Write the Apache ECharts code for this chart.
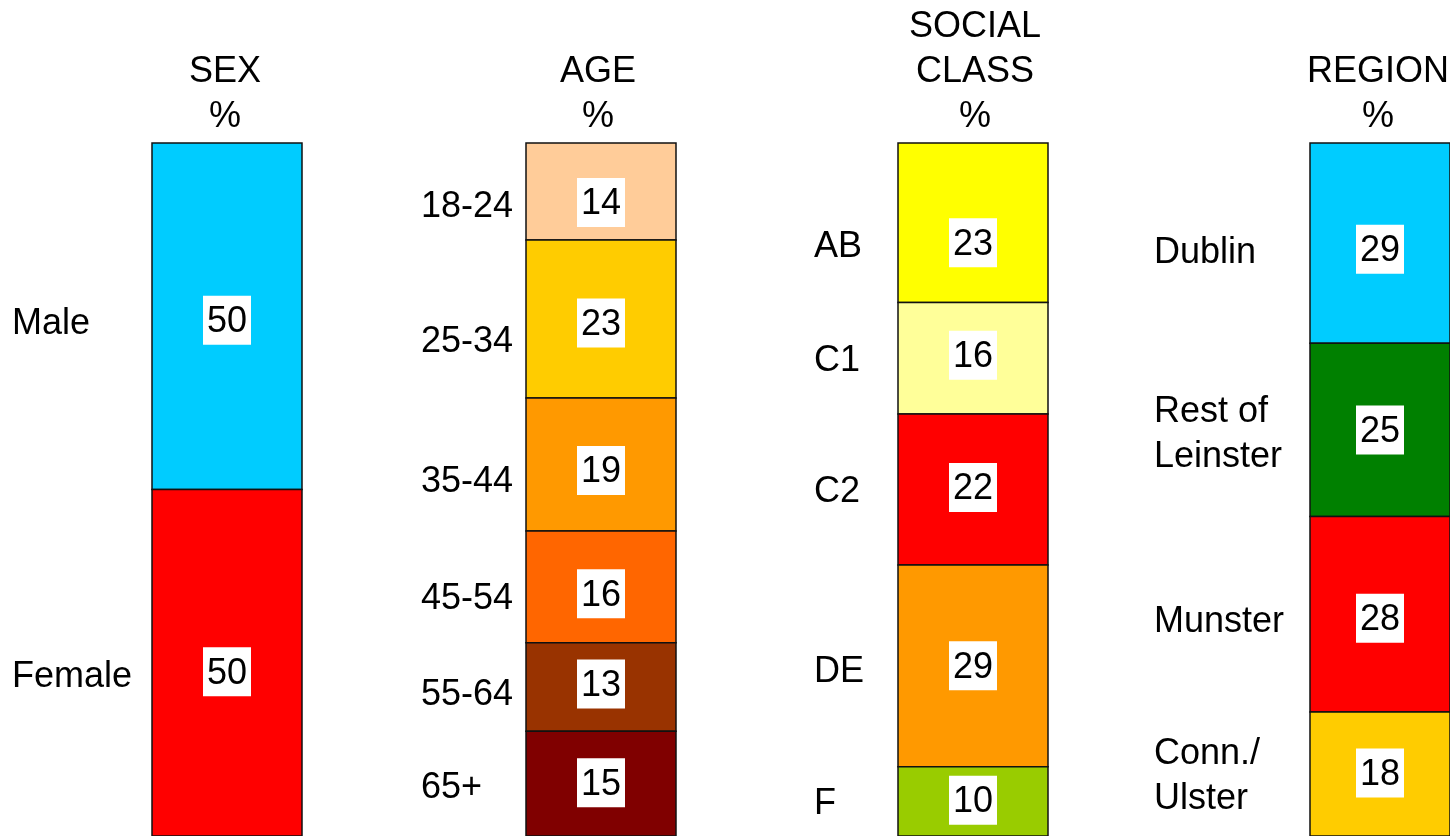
<!DOCTYPE html>
<html>
<head>
<meta charset="utf-8">
<script src="https://cdn.jsdelivr.net/npm/echarts@6/dist/echarts.min.js"></script>
<style>
  html, body { margin: 0; padding: 0; background: #ffffff; }
  #chart { width: 1450px; height: 836px; }
</style>
</head>
<body>
<div id="chart"></div>
<script>
// ---- Data (percent shares) ----
const sexCategories = ['Male', 'Female'];
const sexValues = [50, 50];

const ageCategories = ['18-24', '25-34', '35-44', '45-54', '55-64', '65+'];
const ageValues = [14.0, 22.8, 19.2, 16.1, 12.8, 15.1];

const classCategories = ['AB', 'C1', 'C2', 'DE', 'F'];
const classValues = [23.0, 16.1, 21.8, 29.1, 10.0];

const regionCategories = ['Dublin', 'Rest of\nLeinster', 'Munster', 'Conn./\nUlster'];
const regionValues = [28.9, 25.0, 28.2, 17.9];

const columnTitles = ['SEX\n%', 'AGE\n%', 'SOCIAL\nCLASS\n%', 'REGION\n%'];

// ---- Styles ----
const sexColors = ['#00CCFF', '#FF0000'];
const ageColors = ['#FFCC99', '#FFCC00', '#FF9900', '#FF6600', '#993300', '#800000'];
const classColors = ['#FFFF00', '#FFFF99', '#FF0000', '#FF9900', '#99CC00'];
const regionColors = ['#00CCFF', '#008000', '#FF0000', '#FFCC00'];

// text placement tweaks (pixels below segment centre), as in the original layout
const sexValueNudge = [4, 9], sexNameNudge = [4, 10];
const ageValueNudge = [11, 4, 6, 7, -3, -1], ageNameNudge = [12, 19, 14, 8, 4, 0];
const classValueNudge = [20, -3, -2, 0, -1], classNameNudge = [20, -1, -1, 2, -1];
const regionValueNudge = [6, 0, 4, -1], regionNameNudge = [6, 1, 4, -1];

const FONT_FAMILY = '"Liberation Sans", Arial, Helvetica, sans-serif';
const FONT = '36px ' + FONT_FAMILY;
const TEXT_BIAS = 4;   // glyph centring correction for plain text
const BOX_W = 48, BOX_H = 49;

// layout per column: bar left edge, left-label distance, title centre, title top
const columns = [
  { cats: sexCategories, vals: sexValues, colors: sexColors, vNudge: sexValueNudge, nNudge: sexNameNudge, left: 152, labelDist: 140, titleX: 225, titleTop: 50 },
  { cats: ageCategories, vals: ageValues, colors: ageColors, vNudge: ageValueNudge, nNudge: ageNameNudge, left: 526, labelDist: 105, titleX: 598, titleTop: 50 },
  { cats: classCategories, vals: classValues, colors: classColors, vNudge: classValueNudge, nNudge: classNameNudge, left: 898, labelDist: 84, titleX: 975, titleTop: 5 },
  { cats: regionCategories, vals: regionValues, colors: regionColors, vNudge: regionValueNudge, nNudge: regionNameNudge, left: 1310, labelDist: 156, titleX: 1378, titleTop: 50 }
];

const BAR_TOP = 143;
const BAR_HEIGHT = 696;
const BAR_WIDTH = 150;

const grids = [], xAxes = [], yAxes = [], series = [], titles = [];

columns.forEach((col, ci) => {
  grids.push({ left: col.left, top: BAR_TOP, width: BAR_WIDTH, height: BAR_HEIGHT, containLabel: false });
  xAxes.push({ type: 'category', gridIndex: ci, data: ['all'], show: false, boundaryGap: true });
  yAxes.push({ type: 'value', gridIndex: ci, min: 0, max: 100, inverse: true, show: false });

  let cum = 0;
  const data = col.vals.map((v, i) => {
    const item = [0, cum, cum + v, v, i];
    cum += v;
    return item;
  });

  series.push({
    type: 'custom',
    xAxisIndex: ci,
    yAxisIndex: ci,
    silent: true,
    clip: false,
    data: data,
    renderItem: function (params, api) {
      const start = api.value(1), end = api.value(2), val = api.value(3), idx = api.value(4);
      const p0 = api.coord([0, start]);
      const p1 = api.coord([0, end]);
      const w = api.size([1, 0])[0];
      const x = p0[0] - w / 2;
      const midY = (p0[1] + p1[1]) / 2;
      const boxY = midY + col.vNudge[idx];
      return {
        type: 'group',
        children: [
          {
            type: 'rect',
            shape: { x: x, y: p0[1], width: w, height: p1[1] - p0[1] },
            style: { fill: col.colors[idx], stroke: '#111', lineWidth: 1.5 }
          },
          {
            type: 'rect',
            z2: 5,
            shape: { x: p0[0] - BOX_W / 2, y: boxY - BOX_H / 2, width: BOX_W, height: BOX_H },
            style: { fill: '#ffffff' }
          },
          {
            type: 'text',
            z2: 10,
            style: {
              text: String(Math.round(val)),
              x: p0[0], y: boxY + TEXT_BIAS - 2,
              align: 'center', verticalAlign: 'middle',
              font: FONT, fill: '#000'
            }
          },
          {
            type: 'text',
            z2: 10,
            style: {
              text: col.cats[idx],
              x: x - col.labelDist, y: midY + col.nNudge[idx] + TEXT_BIAS,
              align: 'left', verticalAlign: 'middle',
              font: FONT, fill: '#000', lineHeight: 45
            }
          }
        ]
      };
    }
  });

  titles.push({
    text: columnTitles[ci],
    left: col.titleX,
    top: col.titleTop,
    textAlign: 'center',
    padding: 0,
    textStyle: {
      fontFamily: FONT_FAMILY,
      fontSize: 36, fontWeight: 'normal', color: '#000', lineHeight: 45
    }
  });
});

const chart = echarts.init(document.getElementById('chart'), null, { renderer: 'canvas' });
chart.setOption({
  animation: false,
  backgroundColor: '#ffffff',
  title: titles,
  grid: grids,
  xAxis: xAxes,
  yAxis: yAxes,
  series: series
});
</script>
</body>
</html>
